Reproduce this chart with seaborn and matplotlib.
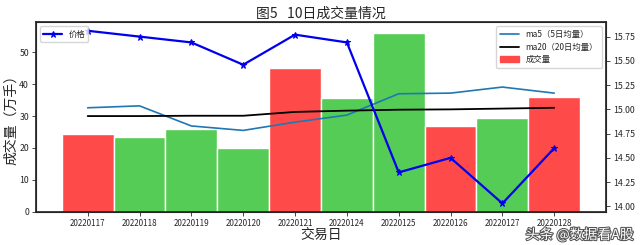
import matplotlib
matplotlib.use("Agg")
import matplotlib.pyplot as plt
import matplotlib.patheffects as pe
from matplotlib.lines import Line2D
from matplotlib.patches import Patch
import seaborn as sns
import pandas as pd
import numpy as np

dates = ["20220117", "20220118", "20220119", "20220120", "20220121",
         "20220124", "20220125", "20220126", "20220127", "20220128"]
volume = [24.3, 23.3, 25.9, 19.9, 45.0, 35.7, 56.2, 26.9, 29.5, 36.0]
up_day = [True, False, False, False, True, False, False, True, False, True]
ma5 = [32.6, 33.2, 26.9, 25.5, 28.1, 30.3, 37.0, 37.2, 39.1, 37.2]
ma20 = [30.0, 30.0, 30.1, 30.1, 31.3, 31.7, 32.0, 32.1, 32.35, 32.6]
price = [15.81, 15.75, 15.69, 15.46, 15.77, 15.69, 14.35, 14.50, 14.03, 14.60]

RED = "#FF4A4A"
GREEN = "#55CC55"

sns.set_theme(style="ticks")
plt.rcParams["font.family"] = ["Noto Sans CJK SC", "DejaVu Sans"]
plt.rcParams["axes.unicode_minus"] = False

df = pd.DataFrame({"date": dates, "volume": volume, "ma5": ma5,
                   "ma20": ma20, "price": price})
df["pos"] = np.arange(len(df))
bar_colors = [RED if u else GREEN for u in up_day]

fig = plt.figure(figsize=(6.4, 2.45), dpi=100)
ax = fig.add_axes([0.056, 0.136, 0.891, 0.774])

sns.barplot(data=df, x="date", y="volume", hue="date", palette=bar_colors,
            width=1.0, edgecolor="white", linewidth=1.0, legend=False,
            saturation=1.0, ax=ax)
sns.lineplot(x=df["pos"], y=df["ma5"], color="#1f77b4", lw=1.2, ax=ax)
sns.lineplot(x=df["pos"], y=df["ma20"], color="black", lw=1.3, ax=ax)
ax.set_xlim(-1.0, 10.0)
ax.set_ylim(0, 59.5)
ax.set_xticks(df["pos"])
ax.set_xticklabels(dates, fontsize=5.8)
ax.tick_params(axis="y", labelsize=6.3, length=3, width=0.6, pad=2)
ax.tick_params(axis="x", length=3, width=0.6, pad=2)
ax.set_xlabel("交易日", fontsize=10, labelpad=0)
ax.set_ylabel("成交量（万手）", fontsize=10, labelpad=1)
ax.set_title("图5   10日成交量情况", fontsize=10, pad=3)
for s in ax.spines.values():
    s.set_linewidth(0.8)

handles = [Line2D([], [], color="#1f77b4", lw=1.2),
           Line2D([], [], color="black", lw=1.3),
           Patch(facecolor=RED, edgecolor=RED)]
ax.legend(handles, ["ma5（5日均量）", "ma20（20日均量）", "成交量"],
          loc="upper right", fontsize=6, frameon=True, borderpad=0.5,
          handlelength=2.2, labelspacing=0.4)

ax2 = ax.twinx()
sns.lineplot(x=df["pos"], y=df["price"], color="#0000EE", lw=1.6,
             marker="*", markersize=5, markeredgecolor="#0000EE",
             label="价格", ax=ax2)
ax2.set_ylim(13.945, 15.90)
ax2.set_yticks([14.00, 14.25, 14.50, 14.75, 15.00, 15.25, 15.50, 15.75])
ax2.set_yticklabels(["14.00", "14.25", "14.50", "14.75", "15.00", "15.25",
                     "15.50", "15.75"])
ax2.tick_params(axis="y", labelsize=6.3, length=3, width=0.6, pad=2)
ax2.set_ylabel("")
ax2.set_xlabel("")
ax2.legend(loc="upper left", fontsize=6, frameon=True, handlelength=2.2)
ax.set_xlim(-1.0, 10.0)

fig.text(0.99, 0.012, "头条 @数据看A股", ha="right", va="bottom",
         fontsize=10, color="white",
         path_effects=[pe.withStroke(linewidth=1.5, foreground="#555555")])

fig.savefig("out.png", dpi=100)
